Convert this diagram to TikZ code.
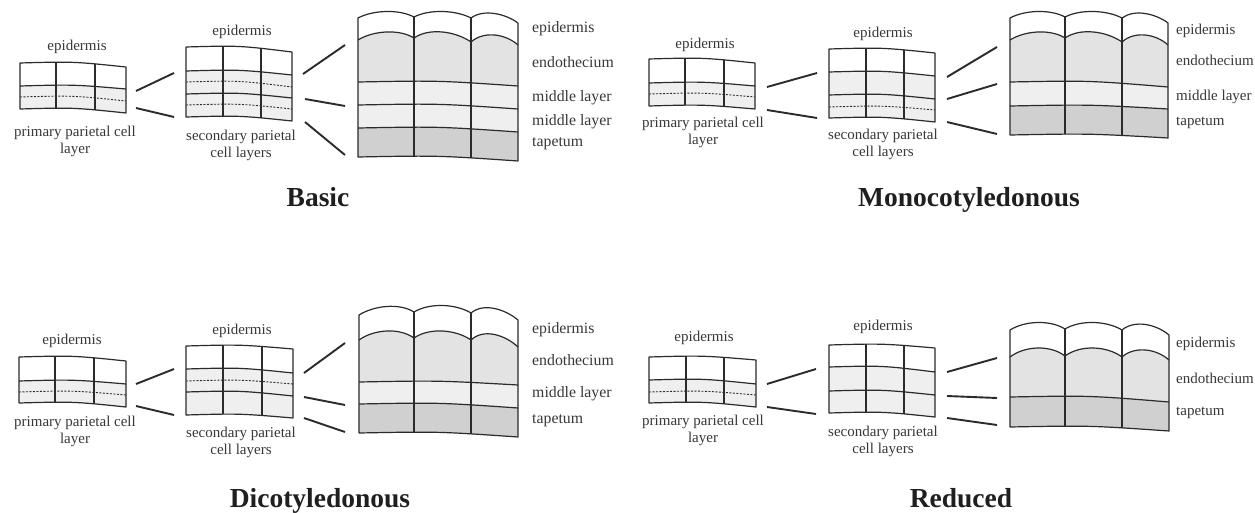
\documentclass[tikz,border=0pt]{standalone}
\usepackage{fontspec}
\setmainfont{Liberation Serif}

\definecolor{ink}{HTML}{2B2B2B}
\definecolor{txt}{HTML}{383838}
\definecolor{pale}{HTML}{EFEFEF}
\definecolor{endo}{HTML}{E3E3E3}
\definecolor{tap}{HTML}{D0D0D0}

% gently curved row line from (L,yL) to (R,yR)
\newcommand\fl[4]{(#1,#3) .. controls ({(#1+#2)/2},{#3-1.5}) .. (#2,#4)}
% the same curve run backwards, from (R,yR) to (L,yL)
\newcommand\flb[4]{.. controls ({(#1+#2)/2},{#3-1.5}) .. (#1,#3)}
% rounded cell top from the current point (x1,y1) to (x2,y2), rise #5
\newcommand\arcto[5]{.. controls ({#1+0.27*(#3-#1)},{#2-1.3333*#5}) and ({#3-0.27*(#3-#1)},{#4-1.3333*#5}) .. (#3,#4)}

% filled band between two row lines: L R y1L y1R y2L y2R colour
\newcommand\rowband[7]{\fill[#7] \fl{#1}{#2}{#3}{#4} -- (#2,#6) \flb{#1}{#2}{#5}{#6} -- cycle;}
% single row line
\newcommand\rowline[5][cell]{\draw[#1] \fl{#2}{#3}{#4}{#5};}
% frame of a flat cell block with two inner walls: L R topL topR botL botR w1 w2
\newcommand\cellframe[8]{%
  \begin{scope}
    \clip \fl{#1}{#2}{#3}{#4} -- (#2,#6) \flb{#1}{#2}{#5}{#6} -- cycle;
    \draw[cell] (#7,0) -- (#7,513) (#8,0) -- (#8,513);
  \end{scope}
  \draw[cell] \fl{#1}{#2}{#3}{#4} -- (#2,#6) \flb{#1}{#2}{#5}{#6} -- cycle;}
% short connecting stroke between named end points
\newcommand\link[3]{\coordinate (#1s) at (#2); \coordinate (#1e) at (#3); \draw[conn] (#1s) -- (#1e);}

\tikzset{
  cell/.style={draw=ink, line width=1.2pt, line join=round},
  dotrow/.style={draw=ink, line width=0.9pt, dash pattern=on 2pt off 1.5pt},
  conn/.style={draw=ink, line width=1.9pt},
  lab/.style={text=txt, inner sep=0pt, align=center, font=\fontsize{15}{17}\selectfont},
  rlab/.style={text=txt, inner sep=0pt, anchor=west, font=\fontsize{15.8}{18}\selectfont},
  rlabs/.style={text=txt, inner sep=0pt, anchor=west, font=\fontsize{15}{17}\selectfont},
  ttl/.style={text=black!88, inner sep=0pt, anchor=base, font=\fontsize{27.5}{30}\selectfont\bfseries},
}

\begin{document}
\begin{tikzpicture}[x=1pt, y=-1pt]
\useasboundingbox (0,0) rectangle (1255,513);
\fill[white] (0,0) rectangle (1255,513);

% ================= Basic =================
% primary parietal layer
\rowband{20}{126}{86}{89}{109}{113}{pale}
\cellframe{20}{126}{63}{67}{109}{113}{56}{95}
\rowline{20}{126}{86}{89}
\rowline[dotrow]{20}{126}{97}{101}
\node[lab] (b-epi1) at (77,47) {epidermis};
\node[lab] (b-ppl) at (75,141.5) {primary parietal cell\\layer};
\link{b-c1}{136,91}{174,73}
\link{b-c2}{136,108}{174,117}
% secondary parietal layers
\rowband{186}{292}{71}{75}{117}{121}{pale}
\cellframe{186}{292}{47}{52}{117}{121}{223}{261}
\rowline{186}{292}{71}{75}
\rowline{186}{292}{94}{98}
\rowline[dotrow]{186}{292}{82}{87}
\rowline[dotrow]{186}{292}{105}{109}
\node[lab] (b-epi2) at (242,32) {epidermis};
\node[lab] (b-spl) at (241,145) {secondary parietal\\cell layers};
\link{b-c3}{303,74}{345,45}
\link{b-c4}{305,99}{345,106}
\link{b-c5}{305,122}{345,155}
% mature wall
\fill[endo] (358,40) \arcto{358}{40}{414}{38}{7} \arcto{414}{38}{471}{42}{8} \arcto{471}{42}{518}{45}{8.5} -- (518,86) \flb{358}{518}{82}{86} -- cycle;
\rowband{358}{518}{82}{86}{105}{109}{pale}
\rowband{358}{518}{105}{109}{128}{132}{pale}
\rowband{358}{518}{128}{132}{157}{161}{tap}
\begin{scope}
  \clip (358,18) \arcto{358}{18}{414}{17}{6} \arcto{414}{17}{471}{18}{6} \arcto{471}{18}{518}{23}{7} -- (518,161) \flb{358}{518}{157}{161} -- cycle;
  \draw[cell] (414,0) -- (414,513) (471,0) -- (471,513);
\end{scope}
\draw[cell] (358,18) \arcto{358}{18}{414}{17}{6} \arcto{414}{17}{471}{18}{6} \arcto{471}{18}{518}{23}{7} -- (518,161) \flb{358}{518}{157}{161} -- cycle;
\draw[cell] (358,40) \arcto{358}{40}{414}{38}{7} \arcto{414}{38}{471}{42}{8} \arcto{471}{42}{518}{45}{8.5};
\rowline{358}{518}{82}{86}
\rowline{358}{518}{105}{109}
\rowline{358}{518}{128}{132}
\node[rlab] (b-l1) at (532,29) {epidermis};
\node[rlab] (b-l2) at (532,62) {endothecium};
\node[rlab] (b-l3) at (532,98) {middle layer};
\node[rlab] (b-l4) at (532,122) {middle layer};
\node[rlab] (b-l5) at (532,144) {tapetum};
\node[ttl] (b-title) at (318,207) {Basic};

% ================= Monocotyledonous =================
\rowband{649}{755}{83}{86}{106}{109}{pale}
\cellframe{649}{755}{59}{63}{106}{109}{685}{724}
\rowline{649}{755}{83}{86}
\rowline[dotrow]{649}{755}{94}{97}
\node[lab] (m-epi1) at (705,45) {epidermis};
\node[lab] (m-ppl) at (703,132) {primary parietal cell\\layer};
\link{m-c1}{767,87}{817,73}
\link{m-c2}{767,110}{817,118}
\rowband{829}{935}{72}{76}{118}{122}{pale}
\cellframe{829}{935}{49}{53}{118}{122}{866}{904}
\rowline{829}{935}{72}{76}
\rowline{829}{935}{95}{99}
\rowline[dotrow]{829}{935}{107}{110}
\node[lab] (m-epi2) at (883,34) {epidermis};
\node[lab] (m-spl) at (883,144.5) {secondary parietal\\cell layers};
\link{m-c3}{947,77}{997,47}
\link{m-c4}{947,99}{997,84}
\link{m-c5}{947,122}{997,134}
\fill[endo] (1010,40) \arcto{1010}{40}{1065}{38}{7} \arcto{1065}{38}{1122}{42}{8} \arcto{1122}{42}{1168}{45}{8.5} -- (1168,87) \flb{1010}{1168}{82}{87} -- cycle;
\rowband{1010}{1168}{82}{87}{106}{109}{pale}
\rowband{1010}{1168}{106}{109}{135}{138}{tap}
\begin{scope}
  \clip (1010,18) \arcto{1010}{18}{1065}{17}{6} \arcto{1065}{17}{1122}{18}{6} \arcto{1122}{18}{1168}{23}{7} -- (1168,138) \flb{1010}{1168}{135}{138} -- cycle;
  \draw[cell] (1065,0) -- (1065,513) (1122,0) -- (1122,513);
\end{scope}
\draw[cell] (1010,18) \arcto{1010}{18}{1065}{17}{6} \arcto{1065}{17}{1122}{18}{6} \arcto{1122}{18}{1168}{23}{7} -- (1168,138) \flb{1010}{1168}{135}{138} -- cycle;
\draw[cell] (1010,40) \arcto{1010}{40}{1065}{38}{7} \arcto{1065}{38}{1122}{42}{8} \arcto{1122}{42}{1168}{45}{8.5};
\rowline{1010}{1168}{82}{87}
\rowline{1010}{1168}{106}{109}
\node[rlabs] (m-l1) at (1176,31) {epidermis};
\node[rlabs] (m-l2) at (1176,60) {endothecium};
\node[rlabs] (m-l3) at (1176,97) {middle layer};
\node[rlabs] (m-l4) at (1176,123) {tapetum};
\node[ttl] (m-title) at (969,207) {Monocotyledonous};

% ================= Dicotyledonous =================
\rowband{19}{126}{381}{384}{403}{407}{pale}
\cellframe{19}{126}{357}{361}{403}{407}{55}{94}
\rowline{19}{126}{381}{384}
\rowline[dotrow]{19}{126}{392}{395}
\node[lab] (d-epi1) at (72,341) {epidermis};
\node[lab] (d-ppl) at (75,431) {primary parietal cell\\layer};
\link{d-c1}{136,384}{174,369}
\link{d-c2}{136,406}{174,415}
\rowband{186}{293}{369}{373}{415}{418}{pale}
\cellframe{186}{293}{346}{349}{415}{418}{223}{262}
\rowline{186}{293}{369}{373}
\rowline{186}{293}{392}{396}
\rowline[dotrow]{186}{293}{381}{384}
\node[lab] (d-epi2) at (242,331) {epidermis};
\node[lab] (d-spl) at (241,442) {secondary parietal\\cell layers};
\link{d-c3}{304,373}{345,343}
\link{d-c4}{304,397}{345,405}
\link{d-c5}{304,418}{345,432}
\fill[endo] (359,340) \arcto{359}{340}{414}{338}{8} \arcto{414}{338}{471}{340}{8} \arcto{471}{340}{518}{347}{9} -- (518,385) \flb{359}{518}{382}{385} -- cycle;
\rowband{359}{518}{382}{385}{404}{408}{pale}
\rowband{359}{518}{404}{408}{433}{437}{tap}
\begin{scope}
  \clip (359,315) \arcto{359}{315}{414}{312}{7} \arcto{414}{312}{471}{313}{7} \arcto{471}{313}{518}{320}{8} -- (518,437) \flb{359}{518}{433}{437} -- cycle;
  \draw[cell] (414,0) -- (414,513) (471,0) -- (471,513);
\end{scope}
\draw[cell] (359,315) \arcto{359}{315}{414}{312}{7} \arcto{414}{312}{471}{313}{7} \arcto{471}{313}{518}{320}{8} -- (518,437) \flb{359}{518}{433}{437} -- cycle;
\draw[cell] (359,340) \arcto{359}{340}{414}{338}{8} \arcto{414}{338}{471}{340}{8} \arcto{471}{340}{518}{347}{9};
\rowline{359}{518}{382}{385}
\rowline{359}{518}{404}{408}
\node[rlab] (d-l1) at (532,330) {epidermis};
\node[rlab] (d-l2) at (532,360) {endothecium};
\node[rlab] (d-l3) at (532,394) {middle layer};
\node[rlab] (d-l4) at (532,421) {tapetum};
\node[ttl] (d-title) at (320,507) {Dicotyledonous};

% ================= Reduced =================
\rowband{649}{756}{380}{384}{403}{407}{pale}
\cellframe{649}{756}{357}{360}{403}{407}{686}{724}
\rowline{649}{756}{380}{384}
\rowline[dotrow]{649}{756}{392}{395}
\node[lab] (r-epi1) at (704,338) {epidermis};
\node[lab] (r-ppl) at (703,430.5) {primary parietal cell\\layer};
\link{r-c1}{767,384}{816,369}
\link{r-c2}{767,407}{816,414}
\rowband{829}{935}{367}{372}{413}{417}{pale}
\cellframe{829}{935}{345}{348}{413}{417}{866}{904}
\rowline{829}{935}{367}{372}
\rowline{829}{935}{391}{395}
\node[lab] (r-epi2) at (883,327) {epidermis};
\node[lab] (r-spl) at (883,441) {secondary parietal\\cell layers};
\link{r-c3}{947,372}{997,358}
\link{r-c4}{947,396}{997,398}
\link{r-c5}{947,418}{997,425}
\fill[endo] (1010,357) \arcto{1010}{357}{1065}{356}{8.5} \arcto{1065}{356}{1122}{357}{8.5} \arcto{1122}{357}{1169}{360}{8.5} -- (1169,402) \flb{1010}{1169}{397}{402} -- cycle;
\rowband{1010}{1169}{397}{402}{427}{431}{tap}
\begin{scope}
  \clip (1010,330) \arcto{1010}{330}{1065}{329}{7} \arcto{1065}{329}{1122}{330}{7} \arcto{1122}{330}{1169}{335}{8} -- (1169,431) \flb{1010}{1169}{427}{431} -- cycle;
  \draw[cell] (1065,0) -- (1065,513) (1122,0) -- (1122,513);
\end{scope}
\draw[cell] (1010,330) \arcto{1010}{330}{1065}{329}{7} \arcto{1065}{329}{1122}{330}{7} \arcto{1122}{330}{1169}{335}{8} -- (1169,431) \flb{1010}{1169}{427}{431} -- cycle;
\draw[cell] (1010,357) \arcto{1010}{357}{1065}{356}{8.5} \arcto{1065}{356}{1122}{357}{8.5} \arcto{1122}{357}{1169}{360}{8.5};
\rowline{1010}{1169}{397}{402}
\node[rlabs] (r-l1) at (1176,344) {epidermis};
\node[rlabs] (r-l2) at (1176,378) {endothecium};
\node[rlabs] (r-l3) at (1176,413) {tapetum};
\node[ttl] (r-title) at (961,507) {Reduced};
\end{tikzpicture}
\end{document}
